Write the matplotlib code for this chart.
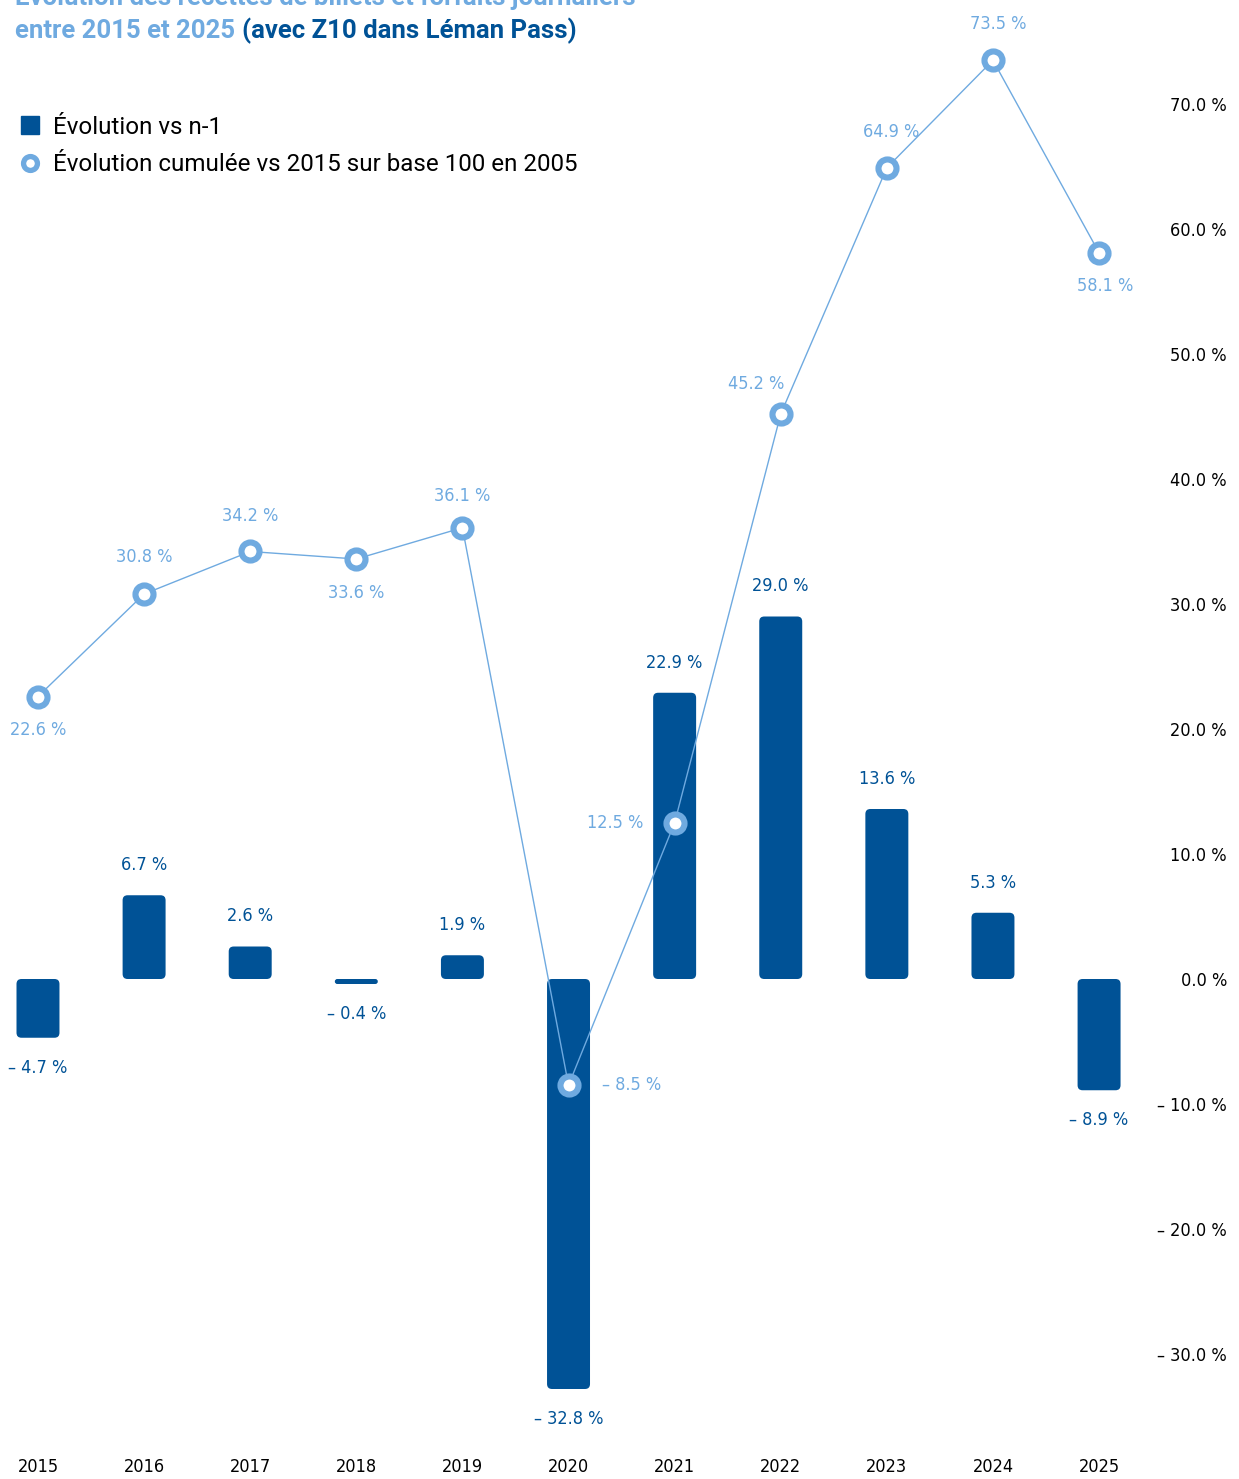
import matplotlib
matplotlib.use('Agg')
import matplotlib.pyplot as plt
from matplotlib.patches import FancyBboxPatch
from matplotlib.lines import Line2D
from matplotlib import font_manager

# data
years = ['2015', '2016', '2017', '2018', '2019', '2020', '2021', '2022', '2023', '2024', '2025']
evol_n1 = [-4.7, 6.7, 2.6, -0.4, 1.9, -32.8, 22.9, 29.0, 13.6, 5.3, -8.9]
evol_cumul = [22.6, 30.8, 34.2, 33.6, 36.1, -8.5, 12.5, 45.2, 64.9, 73.5, 58.1]
yticks = [-30, -20, -10, 0, 10, 20, 30, 40, 50, 60, 70]

DARK = '#005296'
LIGHT = '#6FAAE0'
TXT_FONT = ['Roboto', 'DejaVu Sans']

names = sorted({(f.name, f.stretch) for f in font_manager.fontManager.ttflist})
print([n for n in names if 'Narrow' in n[0] or 'Cond' in n[0] or n[1] != 'normal'])

W, H = 1239, 1479
fig = plt.figure(figsize=(W / 100, H / 100), dpi=100)
ax = fig.add_axes([0, 34 / H, 1150 / W, 1445 / H])

NUM = dict(family=['DejaVu Sans'], stretch='condensed', fontsize=13)


def fmt(v):
    s = f'{abs(v):.1f} %'
    return ('\u2013 ' + s) if v < 0 else s


x = list(range(len(years)))
bars = ax.bar(x, evol_n1, width=0.405, color=DARK)

# rounded corners on the bars
aspect = 8.5
for rect in bars:
    bx, by = rect.get_x(), rect.get_y()
    bw, bh = rect.get_width(), rect.get_height()
    y0, hh = min(by, by + bh), abs(bh)
    r = min(0.047, bw / 2, hh / (2 * aspect))
    p = FancyBboxPatch((bx, y0), bw, hh, boxstyle=f'round,pad=0,rounding_size={r}',
                       mutation_aspect=aspect, facecolor=DARK, edgecolor='none', zorder=2)
    ax.add_patch(p)
    rect.set_visible(False)

for i, v in enumerate(evol_n1):
    off = 21.6 if v >= 0 else -21.6
    ax.annotate(fmt(v), (i, v), xytext=(0, off), textcoords='offset points',
                ha='center', va='center', color=DARK, **NUM)

ax.plot(x, evol_cumul, color=LIGHT, lw=1.0, marker='o', ms=13, mew=4.4,
        mec=LIGHT, mfc='white', zorder=3)

# label placement for the cumulative line (pixels)
line_offsets = [(0, -34), (0, 37), (0, 35), (0, -34), (0, 32), (63, 0),
                (-59, 0), (-25, 30), (4, 36), (5, 36), (6, -33)]
for i, v in enumerate(evol_cumul):
    dx, dy = line_offsets[i]
    ax.annotate(fmt(v), (i, v), xytext=(dx * 0.72, dy * 0.72), textcoords='offset points',
                ha='center', va='center', color=LIGHT, **NUM)

ax.set_xlim(-0.358, 10.48)
ax.set_ylim(-37.28, 78.32)
ax.set_xticks(x)
ax.set_xticklabels(years, **NUM)
ax.set_yticks(yticks)
ax.set_yticklabels([fmt(t) for t in yticks], ha='right', **NUM)
ax.yaxis.tick_right()
ax.tick_params(axis='y', length=0, pad=55.4)
ax.tick_params(axis='x', length=0, pad=9)
for s in ax.spines.values():
    s.set_visible(False)

# title (first line is cut by the top edge, as in the original)
fig.text(15 / W, 1 - 5 / H, 'Évolution des recettes de billets et forfaits journaliers',
         color=LIGHT, fontsize=18.5, fontweight='bold', family=TXT_FONT, va='baseline')
t1 = fig.text(15 / W, 1 - 38 / H, 'entre 2015 et 2025 ', color=LIGHT, fontsize=18.5,
              fontweight='bold', family=TXT_FONT, va='baseline')
t2 = fig.text(0, 1 - 38 / H, '(avec Z10 dans Léman Pass)', color=DARK, fontsize=18.5,
              fontweight='bold', family=TXT_FONT, va='baseline')

handles = [Line2D([], [], ls='none', marker='s', ms=13, color=DARK),
           Line2D([], [], ls='none', marker='o', ms=10, mew=3.8, mec=LIGHT, mfc='white')]
fig.legend(handles, ['Évolution vs n-1', 'Évolution cumulée vs 2015 sur base 100 en 2005'],
           loc='upper left', bbox_to_anchor=(6 / W, 1 - 106 / H), frameon=False,
           prop={'family': TXT_FONT, 'size': 17.4}, handletextpad=0.35, labelspacing=0.6,
           borderaxespad=0, handlelength=1.2)

fig.canvas.draw()
bb = t1.get_window_extent(fig.canvas.get_renderer())
t2.set_x(bb.x1 / W)

fig.savefig('out.png', dpi=100)
